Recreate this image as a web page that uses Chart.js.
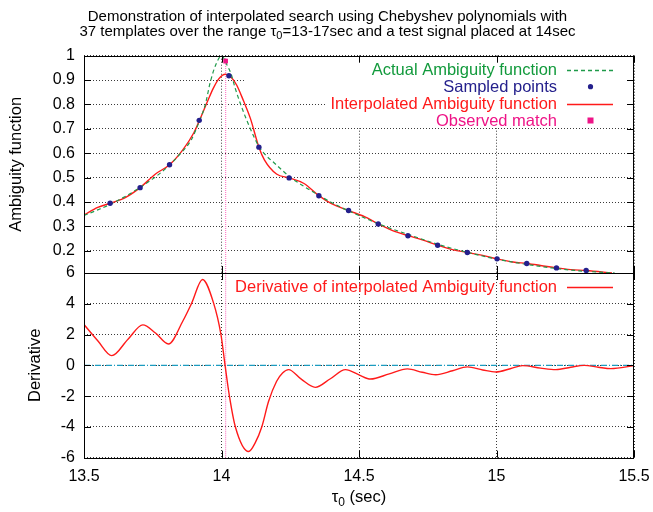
<!DOCTYPE html>
<html>
<head>
<meta charset="utf-8">
<script src="https://cdn.jsdelivr.net/npm/chart.js@4.4.1/dist/chart.umd.min.js"></script>
<style>
    body { margin: 0; background: #fff; }
    #quadro { position: relative; width: 653px; height: 512px; }
    #quadro canvas { position: absolute; left: 0; top: 0; }
</style>
</head>
<body>
<div id="quadro">
    <canvas id="grafico-amb" width="653" height="512"></canvas>
    <canvas id="grafico-deriv" width="653" height="512"></canvas>
</div>
<script>
const FONTE = "'Liberation Sans', Arial, Helvetica, sans-serif";

// eixos
const xTicks = [13.5, 14, 14.5, 15, 15.5];
const ambTicks = [0.2, 0.3, 0.4, 0.5, 0.6, 0.7, 0.8, 0.9, 1];
const derivTicks = [-6, -4, -2, 0, 2, 4, 6];
const ambMin = 0.109, ambMax = 1;
const derivMin = -6, derivMax = 6;

// Actual Ambiguity function (verde tracejado)
const actualX = [13.50, 13.55, 13.60, 13.65, 13.70, 13.75, 13.80, 13.85, 13.89, 13.92, 13.94, 13.96, 13.98, 14.00,
    14.02, 14.035, 14.05, 14.075, 14.105, 14.136, 14.16, 14.19, 14.25, 14.30, 14.35, 14.40, 14.45, 14.50,
    14.55, 14.60, 14.70, 14.80, 14.90, 15.00, 15.10, 15.20, 15.30, 15.43];
const actualY = [0.345, 0.368, 0.393, 0.423, 0.457, 0.495, 0.540, 0.598, 0.655, 0.733, 0.795, 0.895, 0.965, 1.000,
    0.962, 0.925, 0.866, 0.784, 0.700, 0.628, 0.593, 0.562, 0.502, 0.464, 0.430, 0.398, 0.370, 0.345,
    0.320, 0.298, 0.259, 0.222, 0.192, 0.166, 0.146, 0.130, 0.118, 0.109];

// Sampled points
const sampledX = [13.595, 13.704, 13.811, 13.919, 14.027, 14.136, 14.246, 14.354, 14.462, 14.570, 14.678,
    14.786, 14.894, 15.002, 15.110, 15.218, 15.326];
const sampledY = [0.395, 0.459, 0.553, 0.735, 0.918, 0.625, 0.499, 0.426, 0.365, 0.310, 0.262,
    0.223, 0.193, 0.167, 0.148, 0.130, 0.119];

// Interpolated Ambiguity function (vermelho)
const interpX = [13.50, 13.55, 13.595, 13.65, 13.704, 13.76, 13.811, 13.86, 13.90, 13.92, 13.95, 13.97, 13.99,
    14.014, 14.035, 14.055, 14.08, 14.105, 14.136, 14.156, 14.20, 14.246, 14.30, 14.354, 14.40, 14.462,
    14.52, 14.570, 14.62, 14.678, 14.73, 14.786, 14.84, 14.894, 14.95, 15.002, 15.06, 15.110, 15.16,
    15.218, 15.27, 15.326, 15.42];
const interpY = [0.347, 0.378, 0.395, 0.418, 0.459, 0.515, 0.553, 0.615, 0.685, 0.735, 0.815, 0.866, 0.905,
    0.924, 0.912, 0.880, 0.815, 0.743, 0.625, 0.573, 0.515, 0.499, 0.476, 0.426, 0.393, 0.365,
    0.340, 0.310, 0.284, 0.262, 0.245, 0.223, 0.205, 0.193, 0.181, 0.167, 0.154, 0.148, 0.140,
    0.130, 0.123, 0.119, 0.109];

// Observed match
const matchX = [14.015];
const matchY = [0.978];

// Derivative of interpolated Ambiguity function
const derivX = [13.500, 13.550, 13.601, 13.660, 13.714, 13.760, 13.807, 13.860, 13.892, 13.931, 13.971, 13.998,
    14.013, 14.029, 14.050, 14.099, 14.122, 14.147, 14.171, 14.200, 14.222, 14.244, 14.290, 14.341, 14.396,
    14.451, 14.500, 14.542, 14.610, 14.676, 14.730, 14.779, 14.840, 14.894, 14.950, 14.998, 15.050,
    15.095, 15.160, 15.216, 15.270, 15.319, 15.370, 15.416, 15.500];
const derivY = [2.65, 1.60, 0.63, 1.70, 2.63, 2.10, 1.39, 2.90, 4.06, 5.58, 4.06, 2.00,
    0.00, -2.02, -3.97, -5.60, -5.05, -3.97, -2.35, -1.05, -0.50, -0.28, -0.90, -1.43, -0.87,
    -0.28, -0.62, -0.89, -0.55, -0.23, -0.45, -0.61, -0.35, -0.10, -0.30, -0.43, -0.22,
    -0.02, -0.18, -0.28, -0.12, 0.00, -0.12, -0.21, -0.02];

const VERDE = '#1f9a4a';
const VERDE_TXT = '#129a3c';
const AZUL = '#24208c';
const VERMELHO = '#ff1a1a';
const ROSA = '#ee1487';
const ROSA_LINHA = '#ff80c8';
const CIANO = '#1c9cc0';
const GRADE = '#3a3a3a';

Chart.defaults.font.family = FONTE;
Chart.defaults.color = '#000';

function pontos(xs, ys) {
    return xs.map((x, i) => ({ x: x, y: ys[i] }));
}

function textoComIndice(ctx, partes, cx, y) {
    let total = 0;
    partes.forEach(p => {
        ctx.font = p.size + 'px ' + FONTE;
        p.w = ctx.measureText(p.t).width;
        total += p.w;
    });
    let x = cx - total / 2;
    ctx.textAlign = 'left';
    ctx.textBaseline = 'alphabetic';
    partes.forEach(p => {
        ctx.font = p.size + 'px ' + FONTE;
        ctx.fillText(p.t, x, y + (p.dy || 0));
        x += p.w;
    });
}

function criarMoldura(caixas) {
    return {
        id: 'moldura',
        beforeDatasetsDraw(chart) {
            const ctx = chart.ctx;
            ctx.save();
            ctx.fillStyle = '#fff';
            caixas.forEach(b => ctx.fillRect(b[0], b[1], b[2], b[3]));
            ctx.restore();
        },
        afterDraw(chart) {
            const { ctx, chartArea: a, scales } = chart;
            ctx.save();
            ctx.strokeStyle = '#000';
            ctx.lineWidth = 1;
            ctx.beginPath();
            scales.y.ticks.forEach(t => {
                const y = Math.round(scales.y.getPixelForValue(t.value)) + 0.5;
                ctx.moveTo(a.left, y); ctx.lineTo(a.left + 7, y);
                ctx.moveTo(a.right, y); ctx.lineTo(a.right - 7, y);
            });
            scales.x.ticks.forEach(t => {
                const x = Math.round(scales.x.getPixelForValue(t.value)) + 0.5;
                ctx.moveTo(x, a.top); ctx.lineTo(x, a.top + 7);
                ctx.moveTo(x, a.bottom); ctx.lineTo(x, a.bottom - 7);
            });
            ctx.stroke();
            ctx.strokeRect(Math.round(a.left) + 0.5, Math.round(a.top) + 0.5,
                Math.round(a.width) - 1, Math.round(a.height));
            ctx.restore();
        }
    };
}

function criarLegenda(itens, yInicial) {
    return {
        id: 'legenda',
        afterDatasetsDraw(chart) {
            const ctx = chart.ctx;
            ctx.save();
            ctx.font = '16.5px ' + FONTE;
            ctx.textAlign = 'right';
            ctx.textBaseline = 'middle';
            itens.forEach((it, i) => {
                const y = yInicial + i * 16.9;
                ctx.fillStyle = it.cor;
                ctx.fillText(it.texto, 557, y + 1);
                ctx.beginPath();
                if (it.tipo === 'linha' || it.tipo === 'tracejado') {
                    ctx.strokeStyle = it.corMarca;
                    ctx.lineWidth = 1.3;
                    ctx.setLineDash(it.tipo === 'tracejado' ? [4, 3] : []);
                    ctx.moveTo(567, Math.round(y) + 0.5);
                    ctx.lineTo(613, Math.round(y) + 0.5);
                    ctx.stroke();
                    ctx.setLineDash([]);
                } else if (it.tipo === 'ponto') {
                    ctx.fillStyle = it.corMarca;
                    ctx.arc(590.5, y, 2.6, 0, Math.PI * 2);
                    ctx.fill();
                } else {
                    ctx.fillStyle = it.corMarca;
                    ctx.fillRect(587.5, y - 3, 6, 6);
                }
            });
            ctx.restore();
        }
    };
}

const tituloPlugin = {
    id: 'titulo',
    afterDraw(chart) {
        const ctx = chart.ctx;
        ctx.save();
        ctx.fillStyle = '#000';
        textoComIndice(ctx, [{ t: 'Demonstration of interpolated search using Chebyshev polynomials with', size: 15 }], 327.5, 20.5);
        textoComIndice(ctx, [
            { t: '37 templates over the range \u03c4', size: 15 },
            { t: '0', size: 11, dy: 3.5 },
            { t: '=13-17sec and a test signal placed at 14sec', size: 15 }
        ], 327.5, 35.5);
        ctx.restore();
    }
};

const rotuloXPlugin = {
    id: 'rotuloX',
    afterDraw(chart) {
        const ctx = chart.ctx;
        const a = chart.chartArea;
        ctx.save();
        ctx.fillStyle = '#000';
        textoComIndice(ctx, [
            { t: '\u03c4', size: 16.5 },
            { t: '0', size: 12, dy: 4 },
            { t: ' (sec)', size: 16.5 }
        ], (a.left + a.right) / 2, 501.5);
        ctx.restore();
    }
};

function eixoX(mostrar, alturaEixo) {
    return {
        type: 'linear',
        min: xTicks[0],
        max: xTicks[xTicks.length - 1],
        afterBuildTicks: s => { s.ticks = xTicks.map(v => ({ value: v })); },
        afterFit: s => {
            s.height = alturaEixo;
            s.paddingLeft = 0;
            s.paddingRight = 0;
        },
        ticks: { display: mostrar, padding: 9, font: { size: 16 }, maxRotation: 0, callback: v => String(v) },
        grid: { color: GRADE, lineWidth: 1, drawTicks: false },
        border: { display: false, dash: [1, 2] }
    };
}

function eixoY(min, max, lista, titulo, recuo) {
    return {
        type: 'linear',
        min: min,
        max: max,
        afterBuildTicks: s => { s.ticks = lista.map(v => ({ value: v })); },
        afterFit: s => { s.width = 84; },
        ticks: { padding: 9, font: { size: 16 }, callback: v => String(v) },
        grid: { color: GRADE, lineWidth: 1, drawTicks: false },
        border: { display: false, dash: [1, 2] },
        title: { display: true, text: titulo, font: { size: 16.5 }, padding: { top: recuo, bottom: 0 } }
    };
}

const opcoesBase = {
    responsive: false,
    animation: false,
    devicePixelRatio: 1,
    plugins: { legend: { display: false }, tooltip: { enabled: false } },
    elements: { point: { radius: 0 } }
};

const graficoAmb = new Chart(document.getElementById('grafico-amb'), {
    type: 'line',
    data: {
        datasets: [
            {
                label: 'Observed match',
                data: pontos(matchX, matchY),
                showLine: false,
                pointStyle: 'rect',
                pointRadius: 3.3,
                pointBackgroundColor: ROSA,
                pointBorderWidth: 0
            },
            {
                label: 'Sampled points',
                data: pontos(sampledX, sampledY),
                showLine: false,
                pointRadius: 2.7,
                pointBackgroundColor: AZUL,
                pointBorderWidth: 0
            },
            {
                label: 'Actual Ambiguity function',
                data: pontos(actualX, actualY),
                borderColor: VERDE,
                borderWidth: 1.2,
                borderDash: [4, 3],
                cubicInterpolationMode: 'monotone'
            },
            {
                label: 'Interpolated Ambiguity function',
                data: pontos(interpX, interpY),
                borderColor: VERMELHO,
                borderWidth: 1.4,
                cubicInterpolationMode: 'monotone'
            },
            {
                label: 'match line',
                data: [{ x: matchX[0], y: ambMin }, { x: matchX[0], y: ambMax }],
                borderColor: ROSA_LINHA,
                borderWidth: 1.2,
                borderDash: [1, 1]
            }
        ]
    },
    options: {
        ...opcoesBase,
        layout: { padding: { left: 0, top: 55.7, right: 19, bottom: 239 } },
        scales: {
            x: eixoX(false, 0),
            y: eixoY(ambMin, ambMax, ambTicks, 'Ambiguity function', 6.5)
        }
    },
    plugins: [
        criarMoldura([[245, 58, 380, 32], [326, 58, 299, 70]]),
        criarLegenda([
            { texto: 'Actual Ambiguity function', cor: VERDE_TXT, tipo: 'tracejado', corMarca: VERDE },
            { texto: 'Sampled points', cor: AZUL, tipo: 'ponto', corMarca: AZUL },
            { texto: 'Interpolated Ambiguity function', cor: VERMELHO, tipo: 'linha', corMarca: VERMELHO },
            { texto: 'Observed match', cor: ROSA, tipo: 'quadrado', corMarca: ROSA }
        ], 69.8),
        tituloPlugin
    ]
});

const graficoDeriv = new Chart(document.getElementById('grafico-deriv'), {
    type: 'line',
    data: {
        datasets: [
            {
                label: 'Derivative of interpolated Ambiguity function',
                data: pontos(derivX, derivY),
                borderColor: VERMELHO,
                borderWidth: 1.4,
                cubicInterpolationMode: 'monotone'
            },
            {
                label: 'zero',
                data: [{ x: xTicks[0], y: 0 }, { x: xTicks[xTicks.length - 1], y: 0 }],
                borderColor: CIANO,
                borderWidth: 1.2,
                borderDash: [6, 2, 1, 2]
            },
            {
                label: 'match line',
                data: [{ x: matchX[0], y: derivMin }, { x: matchX[0], y: derivMax }],
                borderColor: ROSA_LINHA,
                borderWidth: 1.2,
                borderDash: [1, 1]
            }
        ]
    },
    options: {
        ...opcoesBase,
        layout: { padding: { left: 0, top: 273, right: 19, bottom: 0 } },
        scales: {
            x: eixoX(true, 54.3),
            y: eixoY(derivMin, derivMax, derivTicks, 'Derivative', 26)
        }
    },
    plugins: [
        criarMoldura([]),
        criarLegenda([
            { texto: 'Derivative of interpolated Ambiguity function', cor: VERMELHO, tipo: 'linha', corMarca: VERMELHO }
        ], 286.7),
        rotuloXPlugin
    ]
});
</script>
</body>
</html>
